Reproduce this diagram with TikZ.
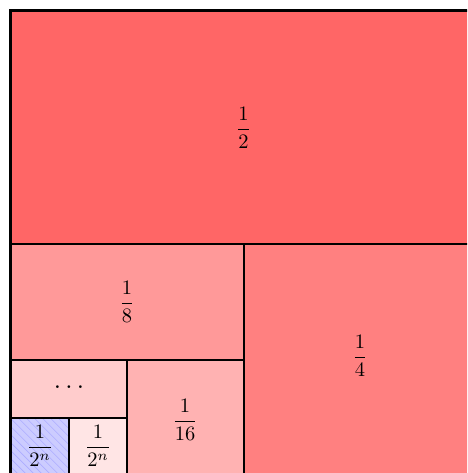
\documentclass[tikz,border=0pt]{standalone}
\usepackage{graphicx}
\newcommand{\bigfr}[2]{\scalebox{2.05}{$\displaystyle\frac{#1}{#2}$}}
\begin{document}
\begin{tikzpicture}[x=1pt,y=-1pt,
  inner/.style={line width=2pt,black},
  outer/.style={line width=3pt,black},
  hatch/.style={line width=0.7pt,blue!32},
  lbl/.style={inner sep=0pt}]
\useasboundingbox (0,0) rectangle (467,473);
\clip (0,0) rectangle (467,473);
% fills
\fill[red!60] (10.5,10.5) rectangle (476.5,243.5);
\fill[red!50] (243.5,243.5) rectangle (476.5,476.5);
\fill[red!40] (10.5,243.5) rectangle (243.5,360);
\fill[red!30] (127,360) rectangle (243.5,476.5);
\fill[red!20] (10.5,360) rectangle (127,418.25);
\fill[red!10] (68.75,418.25) rectangle (127,476.5);
\fill[blue!20] (10.5,418.25) rectangle (68.75,476.5);
\begin{scope}
\clip (10.5,418.25) rectangle (68.75,476.5);
\foreach \k in {-80,-72,...,80}
  \draw[hatch] (10.5+\k,418.25) -- (70.5+\k,478.25);
\end{scope}
% coordinates of grid
\coordinate (h1l) at (10.5,243.5);
\coordinate (h1r) at (476.5,243.5);
\coordinate (v1t) at (243.5,243.5);
\coordinate (v1b) at (243.5,476.5);
\coordinate (h2l) at (10.5,360);
\coordinate (h2r) at (243.5,360);
\coordinate (v2t) at (127,360);
\coordinate (v2b) at (127,476.5);
\coordinate (h3l) at (10.5,418.25);
\coordinate (h3r) at (127,418.25);
\coordinate (v3t) at (68.75,418.25);
\coordinate (v3b) at (68.75,476.5);
\draw[inner] (h1l) -- (h1r);
\draw[inner] (v1t) -- (v1b);
\draw[inner] (h2l) -- (h2r);
\draw[inner] (v2t) -- (v2b);
\draw[inner] (h3l) -- (h3r);
\draw[inner] (v3t) -- (v3b);
\draw[outer] (10.5,10.5) rectangle (476.5,476.5);
% labels
\node[lbl] (half) at (243.5,128) {\bigfr{1}{2}};
\node[lbl] (quarter) at (360,356) {\bigfr{1}{4}};
\node[lbl] (eighth) at (127,302) {\bigfr{1}{8}};
\node[lbl] (sixteenth) at (185,420) {\bigfr{1}{16}};
\node[lbl] (dots) at (69,387) {\scalebox{2.6}{$\dots$}};
\node[lbl] (nl) at (40,446) {\bigfr{1}{2^n}};
\node[lbl] (nr) at (98,446) {\bigfr{1}{2^n}};
\end{tikzpicture}
\end{document}
